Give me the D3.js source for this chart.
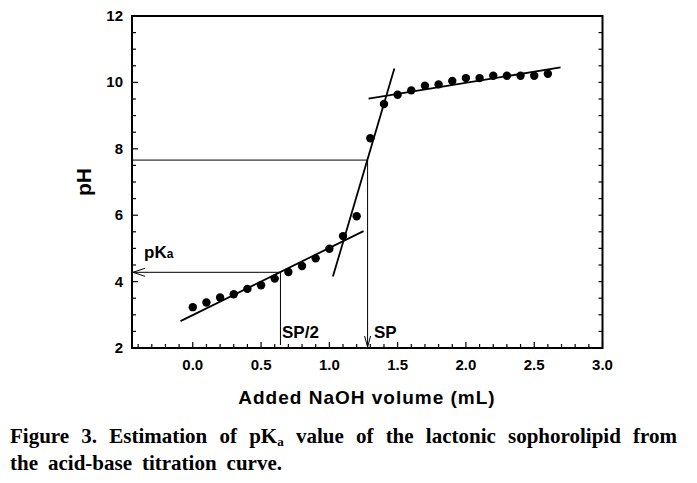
<!DOCTYPE html>
<html><head><meta charset="utf-8">
<script src="https://cdn.jsdelivr.net/npm/d3@7"></script>
<style>body{margin:0;background:#fff}</style>
</head><body><svg id="c" width="697" height="483"></svg>
<script>
const volume = [0.0,0.1,0.2,0.3,0.4,0.5,0.6,0.7,0.8,0.9,1.0,1.1,1.2,1.3,1.4,1.5,1.6,1.7,1.8,1.9,2.0,2.1,2.2,2.3,2.4,2.5,2.6];
const pH = [3.23,3.37,3.52,3.62,3.78,3.89,4.09,4.29,4.47,4.70,4.99,5.37,5.97,8.32,9.35,9.63,9.76,9.90,9.94,10.04,10.13,10.13,10.20,10.20,10.20,10.20,10.26];
const fitLow = [[-0.09,2.81],[1.25,5.52]];
const fitSteep = [[1.026,4.15],[1.476,10.42]];
const fitHigh = [[1.287,9.51],[2.693,10.45]];
const spX = 1.28, spY = 7.66;
const halfX = 0.642, pKa = 4.28;
const xTicks = [0.0,0.5,1.0,1.5,2.0,2.5,3.0];
const yTicks = [2,4,6,8,10,12];
const xDomain = [-0.445, 3.0], yDomain = [2, 12];

const svg = d3.select("#c");
const L=132, R=602.5, T=16, B=348;
const x = d3.scaleLinear().domain(xDomain).range([L,R]);
const y = d3.scaleLinear().domain(yDomain).range([B,T]);
const af = "Arial, 'Liberation Sans', sans-serif";

const g = svg.append("g");
d3.range(-4,31).map(i=>i/10).forEach(v=>{
  const major = Math.abs(v*2-Math.round(v*2))<1e-6;
  g.append("line").attr("x1",x(v)).attr("x2",x(v)).attr("y1",B).attr("y2",B-(major?6:4)).attr("stroke","#000").attr("stroke-width",1.2);
});
d3.range(2,12.01,0.5).forEach(v=>{
  const major = Math.abs(v-Math.round(v/2)*2)<1e-6;
  g.append("line").attr("x1",L).attr("x2",L+(major?6:4)).attr("y1",y(v)).attr("y2",y(v)).attr("stroke","#000").attr("stroke-width",1.2);
  g.append("line").attr("x1",R).attr("x2",R-4).attr("y1",y(v)).attr("y2",y(v)).attr("stroke","#000").attr("stroke-width",1.2);
});
svg.append("rect").attr("x",L).attr("y",T).attr("width",R-L).attr("height",B-T).attr("fill","none").attr("stroke","#000").attr("stroke-width",2);

svg.append("g").selectAll("text").data(xTicks).join("text")
  .attr("x",d=>x(d)).attr("y",370).attr("text-anchor","middle")
  .attr("font-family",af).attr("font-weight","bold").attr("font-size",15).text(d=>d.toFixed(1));
svg.append("g").selectAll("text").data(yTicks).join("text")
  .attr("x",123).attr("y",d=>y(d)+5).attr("text-anchor","end")
  .attr("font-family",af).attr("font-weight","bold").attr("font-size",15).text(d=>d);

svg.append("text").attr("transform","translate(91,182) rotate(-90)").attr("text-anchor","middle")
  .attr("font-family",af).attr("font-weight","bold").attr("font-size",21).text("pH");
svg.append("text").attr("x",367).attr("y",404).attr("text-anchor","middle")
  .attr("font-family",af).attr("font-weight","bold").attr("font-size",19).attr("letter-spacing",1).text("Added NaOH volume (mL)");

const gl = svg.append("g").attr("stroke","#000").attr("stroke-width",1).attr("fill","none");
gl.append("line").attr("x1",L).attr("x2",x(spX)).attr("y1",y(spY)).attr("y2",y(spY));
gl.append("line").attr("x1",x(spX)).attr("x2",x(spX)).attr("y1",y(spY)).attr("y2",B-1);
gl.append("path").attr("d",`M${x(spX)-3},${B-12}L${x(spX)},${B-1}L${x(spX)+3},${B-12}`);
gl.append("line").attr("x1",L+1).attr("x2",x(halfX)).attr("y1",y(pKa)).attr("y2",y(pKa));
gl.append("line").attr("x1",x(halfX)).attr("x2",x(halfX)).attr("y1",y(pKa)).attr("y2",B-3);
gl.append("path").attr("d",`M${L+13},${y(pKa)-4}L${L+1},${y(pKa)}L${L+13},${y(pKa)+4}`);

const line = d3.line().x(d=>x(d[0])).y(d=>y(d[1]));
[fitLow,fitSteep,fitHigh].forEach(f=>svg.append("path").attr("d",line(f)).attr("stroke","#000").attr("stroke-width",1.8).attr("fill","none"));

svg.append("g").selectAll("circle").data(volume.map((v,i)=>[v,pH[i]])).join("circle")
  .attr("cx",d=>x(d[0])).attr("cy",d=>y(d[1])).attr("r",4.2).attr("fill","#000");

const pk = svg.append("text").attr("x",144).attr("y",258).attr("font-family",af).attr("font-weight","bold").attr("font-size",17);
pk.append("tspan").text("pK");
pk.append("tspan").attr("font-size",12).text("a");
svg.append("text").attr("x",282).attr("y",338).attr("font-family",af).attr("font-weight","bold").attr("font-size",17).text("SP/2");
svg.append("text").attr("x",374).attr("y",338).attr("font-family",af).attr("font-weight","bold").attr("font-size",17).text("SP");

const sf = "'Times New Roman','Liberation Serif',serif";
function capLine(yy, parts, target){
  const t = svg.append("text").attr("x",10).attr("y",yy).attr("font-family",sf).attr("font-weight","bold").attr("font-size",21);
  parts.forEach(p=>{
    const s = t.append("tspan").text(p.t);
    if(p.sub) s.attr("font-size",13).attr("dy",3);
    if(p.back) s.attr("dy",-3);
  });
  const spaces = parts.map(p=>p.t).join("").split(" ").length-1;
  const w = t.node().getComputedTextLength();
  t.attr("word-spacing",(target-w)/spaces);
}
capLine(443,[{t:"Figure 3. Estimation of pK"},{t:"a",sub:true},{t:" value of the lactonic sophorolipid from",back:true}],667);
capLine(470,[{t:"the acid-base titration curve."}],272);
</script></body></html>
